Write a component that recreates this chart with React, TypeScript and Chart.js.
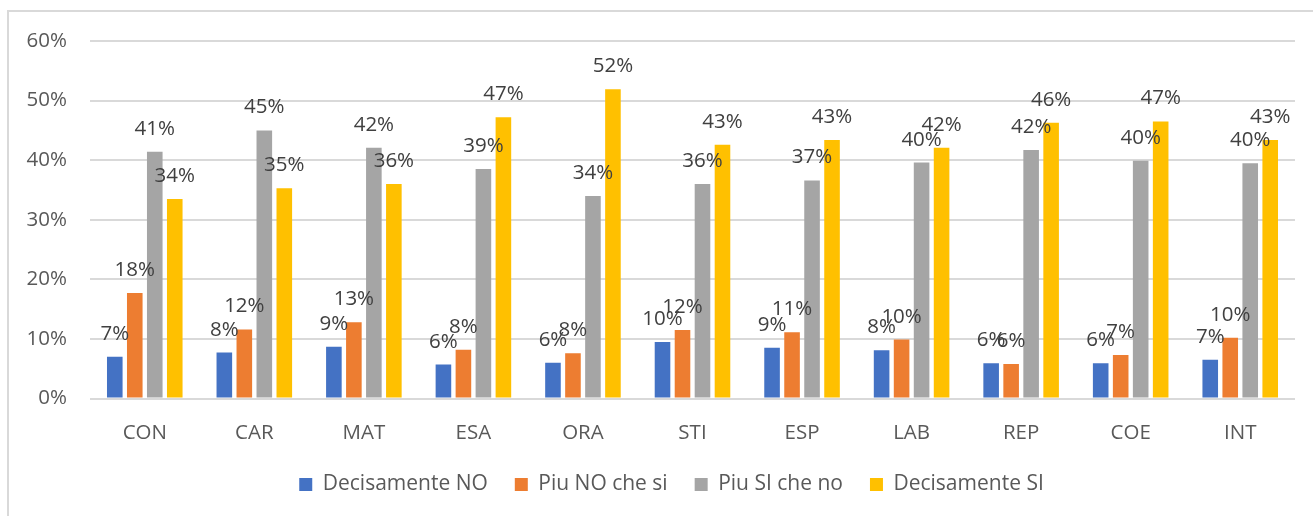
import React, { useEffect, useRef } from 'react';
import { Chart, registerables } from 'chart.js';

Chart.register(...registerables);

const categories = ['CON', 'CAR', 'MAT', 'ESA', 'ORA', 'STI', 'ESP', 'LAB', 'REP', 'COE', 'INT'];
const seriesNames = ['Decisamente NO', 'Piu NO che si', 'Piu SI che no', 'Decisamente SI'];
const decisamenteNo = [7.0, 7.7, 8.7, 5.7, 6.0, 9.5, 8.5, 8.1, 5.9, 5.9, 6.5];
const piuNoCheSi = [17.7, 11.6, 12.8, 8.2, 7.6, 11.5, 11.1, 9.9, 5.8, 7.3, 10.2];
const piuSiCheNo = [41.4, 45.0, 42.1, 38.5, 34.0, 36.0, 36.6, 39.6, 41.7, 39.9, 39.5];
const decisamenteSi = [33.5, 35.3, 36.0, 47.2, 51.9, 42.6, 43.4, 42.1, 46.3, 46.5, 43.4];
const yTicks = [0, 10, 20, 30, 40, 50, 60];
const seriesColors = ['#4472C4', '#ED7D31', '#A5A5A5', '#FFC000'];

const FONT = "'Open Sans', 'Liberation Sans', sans-serif";

const frameAndLabels = {
  id: 'frameAndLabels',
  beforeDraw(chart: any) {
    const ctx = chart.ctx;
    ctx.save();
    ctx.strokeStyle = '#d9d9d9';
    ctx.lineWidth = 2;
    ctx.strokeRect(8, 11, 2000, 2000);
    ctx.restore();
  },
  afterLayout(chart: any) {
    const lg = chart.legend;
    if (lg) {
      lg.left += 24;
      lg.right += 24;
    }
  },
  afterDatasetsDraw(chart: any) {
    const ctx = chart.ctx;
    ctx.save();
    ctx.font = `20.5px ${FONT}`;
    ctx.fillStyle = '#404040';
    ctx.textAlign = 'center';
    ctx.textBaseline = 'alphabetic';
    chart.data.datasets.forEach((ds: any, i: number) => {
      const meta = chart.getDatasetMeta(i);
      meta.data.forEach((bar: any, j: number) => {
        const v = ds.data[j];
        ctx.fillText(Math.round(v) + '%', bar.x, bar.y - 17);
      });
    });
    ctx.restore();
  },
};

export default function App() {
  const ref = useRef<HTMLCanvasElement | null>(null);

  useEffect(() => {
    if (!ref.current) return;
    const seriesData = [decisamenteNo, piuNoCheSi, piuSiCheNo, decisamenteSi];
    const chart = new Chart(ref.current, {
      type: 'bar',
      data: {
        labels: categories,
        datasets: seriesNames.map((name, i) => ({
          label: name,
          data: seriesData[i],
          backgroundColor: seriesColors[i],
          borderWidth: 0,
          categoryPercentage: 0.73,
          barPercentage: 0.78,
        })),
      },
      options: {
        animation: false,
        responsive: false,
        maintainAspectRatio: false,
        layout: { padding: { left: 0, right: 18, top: 41, bottom: 11 } },
        plugins: {
          tooltip: { enabled: false },
          legend: {
            position: 'bottom',
            labels: {
              boxWidth: 13,
              boxHeight: 13,
              padding: 27,
              color: '#595959',
              font: { family: FONT, size: 21 },
            },
          },
        },
        scales: {
          x: {
            grid: { display: false, drawTicks: false },
            border: { display: false },
            ticks: { color: '#595959', font: { family: FONT, size: 20.5 }, padding: 22, maxRotation: 0 },
            afterFit: (s: any) => { s.height = 48.5; },
          },
          y: {
            min: 0,
            max: 60,
            grid: { color: '#d9d9d9', lineWidth: 2, drawTicks: false },
            border: { display: false },
            ticks: {
              color: '#595959',
              font: { family: FONT, size: 20.5 },
              padding: 23,
              callback: (v: any) => v + '%',
            },
            afterBuildTicks: (s: any) => { s.ticks = yTicks.map((v) => ({ value: v })); },
            afterFit: (s: any) => { s.width = 90; },
          },
        },
      },
      plugins: [frameAndLabels],
    });
    return () => chart.destroy();
  }, []);

  return (
    <div style={{ position: 'fixed', left: 0, top: 0, width: 1313, height: 516, overflow: 'hidden', background: '#fff' }}>
      <canvas ref={ref} width={1313} height={516} style={{ display: 'block' }} />
    </div>
  );
}
